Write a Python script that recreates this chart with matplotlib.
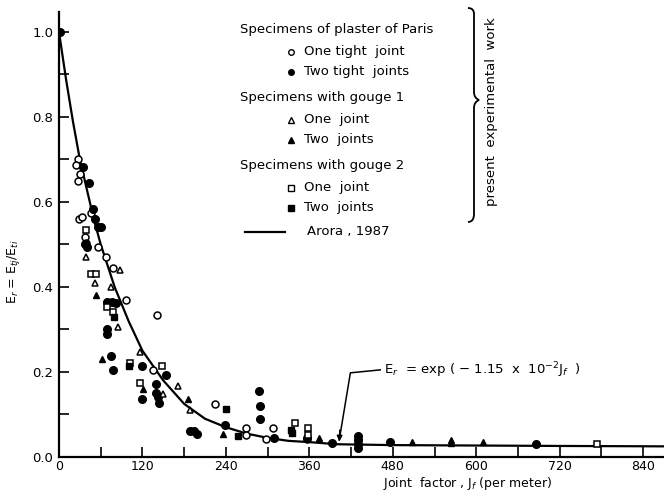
import numpy as np
import matplotlib
matplotlib.use("Agg")
import matplotlib.pyplot as plt
from matplotlib.transforms import Affine2D
from matplotlib.path import Path
from matplotlib.patches import PathPatch

# ---- data ----
# plaster of Paris, one tight joint (open circles)
one_tight_x = [27, 25, 30, 27, 46, 29, 33, 38, 39, 56, 68, 77, 97, 141, 135, 224, 269, 269, 297, 308, 356]
one_tight_y = [0.70, 0.687, 0.666, 0.65, 0.573, 0.56, 0.565, 0.518, 0.503, 0.495, 0.47, 0.445, 0.37,
               0.335, 0.205, 0.125, 0.068, 0.052, 0.042, 0.068, 0.042]

# plaster of Paris, two tight joints (filled circles)
two_tight_x = [1, 34, 43, 49, 52, 56, 60, 37, 40, 69, 76, 82, 69, 69, 75, 78, 119, 154, 139, 119, 140,
               142, 144, 189, 194, 198, 288, 289, 289, 239, 309, 357, 393, 430, 430, 430, 430, 476, 686]
two_tight_y = [1.0, 0.683, 0.645, 0.583, 0.56, 0.54, 0.54, 0.50, 0.495, 0.365, 0.365, 0.362, 0.30, 0.29,
               0.237, 0.205, 0.215, 0.193, 0.172, 0.137, 0.15, 0.14, 0.127, 0.06, 0.06, 0.055, 0.155,
               0.12, 0.09, 0.075, 0.045, 0.045, 0.033, 0.05, 0.04, 0.03, 0.02, 0.035, 0.03]

# gouge 1, one joint (open triangles)
g1_one_x = [39, 52, 87, 75, 85, 116, 149, 171, 189]
g1_one_y = [0.47, 0.41, 0.44, 0.40, 0.305, 0.247, 0.148, 0.167, 0.11]

# gouge 1, two joints (filled triangles)
g1_two_x = [53, 62, 121, 185, 236, 374, 508, 563, 563, 609]
g1_two_y = [0.38, 0.23, 0.16, 0.137, 0.054, 0.045, 0.035, 0.04, 0.033, 0.035]

# gouge 2, one joint (open squares)
g2_one_x = [39, 46, 53, 69, 77, 102, 148, 117, 340, 358, 358, 774]
g2_one_y = [0.534, 0.43, 0.43, 0.353, 0.34, 0.22, 0.215, 0.175, 0.08, 0.068, 0.052, 0.03]

# gouge 2, two joints (filled squares)
g2_two_x = [79, 101, 240, 257, 333, 335, 430]
g2_two_y = [0.33, 0.215, 0.113, 0.05, 0.063, 0.056, 0.045]

# Arora (1987) curve
arora_x = [0, 10, 20, 30, 40, 50, 60, 80, 100, 120, 150, 180, 210, 240, 270, 300, 330, 360, 400, 480, 600, 720, 880]
arora_y = [1.00, 0.89, 0.79, 0.70, 0.63, 0.56, 0.50, 0.40, 0.32, 0.25, 0.18, 0.125, 0.09, 0.07, 0.055,
           0.045, 0.038, 0.035, 0.03, 0.028, 0.027, 0.026, 0.025]

x_ticks = [0, 120, 240, 360, 480, 600, 720, 840]
y_ticks = [0.0, 0.2, 0.4, 0.6, 0.8, 1.0]

plt.rcParams["font.family"] = "DejaVu Sans"

fig = plt.figure(figsize=(6.64, 4.93), dpi=100)
W, H = 664, 493
ax = fig.add_axes([59 / W, 1 - 457 / H, (W - 59) / W, (457 - 12) / H])
# pixel transform (x from left, y from top) for the hand-placed key and labels
px = Affine2D().scale(1 / W, -1 / H).translate(0, 1) + fig.transFigure

k = "black"
ms = 5
ax.plot(arora_x, arora_y, color=k, lw=1.6, zorder=2)
ax.plot(one_tight_x, one_tight_y, "o", mfc="white", mec=k, mew=1.1, ms=ms, ls="none", zorder=3)
ax.plot(two_tight_x, two_tight_y, "o", mfc=k, mec=k, ms=ms + 0.5, ls="none", zorder=3)
ax.plot(g1_one_x, g1_one_y, "^", mfc="white", mec=k, mew=1.1, ms=ms, ls="none", zorder=3)
ax.plot(g1_two_x, g1_two_y, "^", mfc=k, mec=k, ms=ms, ls="none", zorder=3)
ax.plot(g2_one_x, g2_one_y, "s", mfc="white", mec=k, mew=1.1, ms=ms - 0.5, ls="none", zorder=3)
ax.plot(g2_two_x, g2_two_y, "s", mfc=k, mec=k, ms=ms - 0.5, ls="none", zorder=3)

ax.set_xlim(0, 870)
ax.set_ylim(0, 1.047)
ax.set_xticks(x_ticks)
ax.set_xticks([60, 180, 300, 420, 540, 660, 780], minor=True)
ax.set_yticks(y_ticks)
ax.set_yticklabels(["%.1f" % v for v in y_ticks])
ax.set_yticks([0.1, 0.3, 0.5, 0.7, 0.9], minor=True)
ax.tick_params(which="both", direction="in", length=7, width=1.2, labelsize=9.5, pad=4)
ax.tick_params(axis="x", labelsize=9, pad=2)
for s in ["top", "right"]:
    ax.spines[s].set_visible(False)
for s in ["left", "bottom"]:
    ax.spines[s].set_linewidth(1.6)

# axis titles placed by pixel, as in the scan
fig.text(467, 484, "Joint  factor , J$_f$ (per meter)", transform=px, fontsize=9,
         ha="center", va="center")
fig.text(14, 272, "E$_r$ = E$_{tj}$/E$_{ti}$", transform=px, fontsize=9, rotation=90,
         ha="center", va="center")

# formula annotation with the bent leader line
ax.plot([462, 419, 403], [0.205, 0.198, 0.04], color=k, lw=1.1, zorder=2)
ax.annotate("", xy=(403, 0.03), xytext=(404, 0.07),
            arrowprops=dict(arrowstyle="-|>", color=k, lw=1.1, mutation_scale=8))
ax.text(467, 0.205, "E$_r$  = exp ( $-$ 1.15  x  10$^{-2}$J$_f$  )", fontsize=9.5, va="center")

# hand-drawn key
fs = 9.5
ax.text(240, 30, "Specimens of plaster of Paris", transform=px, fontsize=fs, va="center")
ax.text(240, 98, "Specimens with gouge 1", transform=px, fontsize=fs, va="center")
ax.text(240, 166, "Specimens with gouge 2", transform=px, fontsize=fs, va="center")
key_rows = [
    (52, "o", "white", "One tight  joint"),
    (72, "o", k, "Two tight  joints"),
    (120, "^", "white", "One  joint"),
    (140, "^", k, "Two  joints"),
    (188, "s", "white", "One  joint"),
    (208, "s", k, "Two  joints"),
]
for yy, m, fc, lab in key_rows:
    ax.plot([291], [yy], m, mfc=fc, mec=k, mew=1.0, ms=4, transform=px, clip_on=False)
    ax.text(304, yy, lab, transform=px, fontsize=fs, va="center")
ax.plot([245, 285], [232, 232], color=k, lw=1.6, transform=px, clip_on=False)
ax.text(307, 232, "Arora , 1987", transform=px, fontsize=fs, va="center")

# curly brace around the experimental entries
top, tip, bot, xb = 8, 100, 222, 472
verts = [(xb - 4, top), (xb + 2, top), (xb + 2, top + 6), (xb + 2, top + 15),
         (xb + 2, tip - 8), (xb + 2, tip - 2), (xb + 7, tip),
         (xb + 2, tip + 2), (xb + 2, tip + 8), (xb + 2, tip + 15),
         (xb + 2, bot - 8), (xb + 2, bot), (xb - 4, bot)]
codes = [Path.MOVETO, Path.CURVE3, Path.CURVE3, Path.LINETO,
         Path.LINETO, Path.CURVE3, Path.CURVE3,
         Path.CURVE3, Path.CURVE3, Path.LINETO,
         Path.LINETO, Path.CURVE3, Path.CURVE3]
brace = PathPatch(Path(verts, codes), fill=False, lw=1.3, ec=k, transform=px, clip_on=False)
ax.add_patch(brace)
ax.text(492, 112, "present  experimental  work", transform=px, rotation=90,
        fontsize=fs, va="center", ha="center")

fig.savefig("out.png", dpi=100)
